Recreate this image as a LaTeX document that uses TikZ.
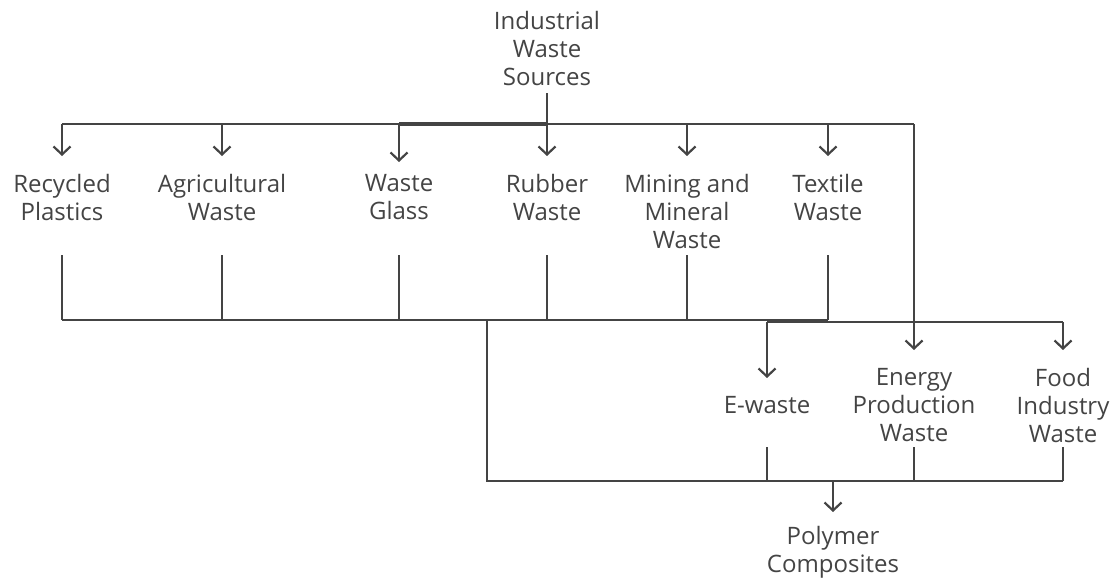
\documentclass[tikz,border=0pt]{standalone}
\usepackage{fontspec}
\setmainfont{Open Sans}
\usetikzlibrary{arrows.meta}
\definecolor{ink}{RGB}{68,68,68}
\tikzset{
  label/.style={align=center, text=ink, inner sep=0pt,
    font=\fontsize{24}{28}\selectfont},
  wire/.style={draw=ink, line width=2.4pt},
  feed/.style={wire, -{Straight Barb[length=8pt,width=17pt,line width=2.2pt]}}
}
\begin{document}
\begin{tikzpicture}[x=1pt,y=-1pt]
      \useasboundingbox (0,0) rectangle (1111,581);
      % levels of the buses
      \coordinate (srcout) at (0,93);
      \coordinate (topbus) at (0,124);
      \coordinate (rowin) at (0,156);
      \coordinate (rowout) at (0,255);
      \coordinate (midbus) at (0,320);
      \coordinate (sidebus) at (0,322);
      \coordinate (lowin) at (0,350);
      \coordinate (ewin) at (0,378);
      \coordinate (lowout) at (0,447);
      \coordinate (endbus) at (0,481);
      \coordinate (endin) at (0,512);
      \coordinate (drop) at (487,320);
      % nodes
      \node[label] (iws) at (547,48) {Industrial\\Waste\\Sources};
      \node[label] (rp) at (62,197) {Recycled\\Plastics};
      \node[label] (aw) at (222,197) {Agricultural\\Waste};
      \node[label] (wg) at (399,197) {Waste\\Glass};
      \node[label] (rw) at (547,197) {Rubber\\Waste};
      \node[label] (mm) at (687,211) {Mining and\\Mineral\\Waste};
      \node[label] (tw) at (828,197) {Textile\\Waste};
      \node[label] (ew) at (767,405) {E-waste};
      \node[label] (ep) at (914,405) {Energy\\Production\\Waste};
      \node[label] (fi) at (1063,405) {Food\\Industry\\Waste};
      \node[label] (pc) at (833,552) {Polymer\\Composites};
      % from the sources
      \draw[wire] (iws |- srcout) -- (iws |- topbus);
      \draw[wire] (rp |- topbus) -- (ep |- topbus);
      \draw[wire, line width=3.4pt] (wg |- topbus) -- (iws |- topbus);
      \draw[feed] (ep |- topbus) -- (ep |- lowin);
      \foreach \n in {rp,aw,rw,mm,tw}
        \draw[feed] (\n |- topbus) -- (\n |- rowin);
      \draw[feed] (wg |- topbus) -- ([yshift=-6pt]wg |- rowin);
      % first row into the middle bus
      \foreach \n in {rp,aw,wg,rw,mm,tw}
        \draw[wire] (\n |- rowout) -- (\n |- midbus);
      \draw[wire] (rp |- midbus) -- (tw |- midbus);
      \draw[wire] (ew |- sidebus) -- (fi |- sidebus);
      \draw[feed] (ew |- sidebus) -- (ew |- ewin);
      \draw[feed] (fi |- sidebus) -- (fi |- lowin);
      % second row into the end bus
      \foreach \n in {ew,ep,fi}
        \draw[wire] (\n |- lowout) -- (\n |- endbus);
      \draw[wire] (drop) -- (drop |- endbus) -- (fi |- endbus);
      \draw[feed] (pc |- endbus) -- (pc |- endin);
    \end{tikzpicture}
\end{document}
